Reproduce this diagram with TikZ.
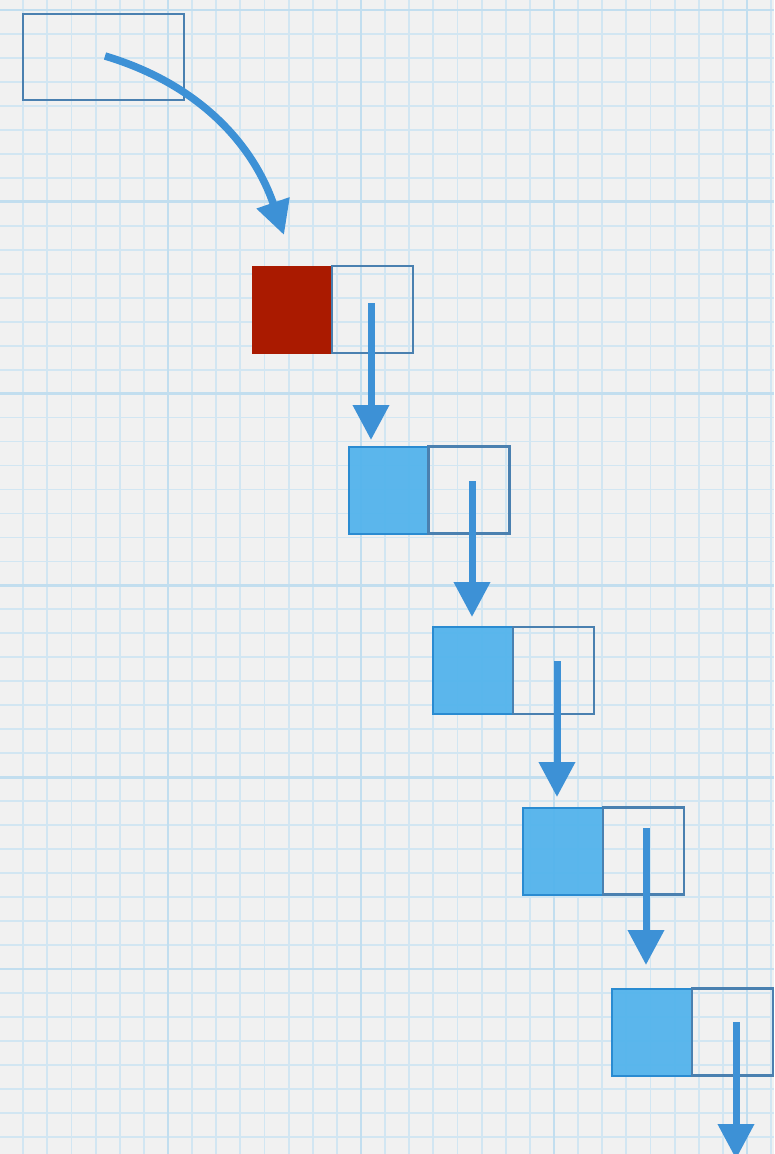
\documentclass[tikz,border=0pt]{standalone}
\usetikzlibrary{arrows.meta}
\definecolor{paper}{HTML}{F1F1F1}
\definecolor{gridminor}{HTML}{D2E6F2}
\definecolor{gridmajor}{HTML}{C2DEEF}
\definecolor{boxline}{HTML}{4A80B0}
\definecolor{arrowblue}{HTML}{3D91D6}
\definecolor{redfill}{HTML}{AA1A00}
\definecolor{bluefill}{HTML}{4FB2EC}
\definecolor{blueline}{HTML}{2A8BD1}
\begin{document}
\begin{tikzpicture}[x=1pt,y=-1pt,
  emptybox/.style={draw=boxline,line width=2.2pt,minimum width=81pt,minimum height=87pt,inner sep=0pt,outer sep=0pt},
  srcbox/.style={draw=boxline,line width=2.2pt,minimum width=161pt,minimum height=86pt,inner sep=0pt,outer sep=0pt},
  redbox/.style={fill=redfill,minimum width=80pt,minimum height=88pt,inner sep=0pt,outer sep=0pt},
  bluebox/.style={fill=bluefill,fill opacity=0.92,draw=blueline,line width=2pt,minimum width=80pt,minimum height=87pt,inner sep=0pt,outer sep=0pt},
  downarrow/.style={draw=arrowblue,line width=7pt,-{Triangle[length=35pt,width=35pt]}},
  curvearrow/.style={draw=arrowblue,line width=7.5pt,-{Triangle[length=34pt,width=33pt]}},
  minorline/.style={draw=gridminor,line width=1.8pt},
  majorline/.style={draw=gridmajor,line width=2.8pt}
]
\useasboundingbox (0,0) rectangle (774,1154);
\fill[paper] (0,0) rectangle (774,1154);
% grid
\foreach \i in {0,...,32} \draw[minorline] ({-0.875+\i*24.125},0) -- ++(0,1154);
\foreach \i in {0,...,47} \draw[minorline] (0,{10+\i*23.975}) -- ++(774,0);
\foreach \x in {168,361,554,747} \draw[majorline] (\x,0) -- ++(0,1154);
\foreach \i in {0,...,5} \draw[majorline] (0,{10+\i*191.8}) -- ++(774,0);
% boxes
\node[srcbox] (src) at (103.5,57) {};
\node[redbox] (h1) at (292,310) {};
\node[emptybox] (e1) at (372.5,309.5) {};
\node[bluebox] (b2) at (389,490.5) {};
\node[emptybox] (e2) at (469,490) {};
\node[bluebox] (b3) at (473,670.5) {};
\node[emptybox] (e3) at (553.5,670.5) {};
\node[bluebox] (b4) at (563,851) {};
\node[emptybox] (e4) at (643.5,851) {};
\node[bluebox] (b5) at (652,1032.5) {};
\node[emptybox] (e5) at (732.5,1032) {};
% arrow ends
\coordinate (s0) at (105,56);
\coordinate (t0) at (284,235);
\coordinate (s1) at (371,303);
\coordinate (t1) at (371,440);
\coordinate (s2) at (472,481);
\coordinate (t2) at (472,617);
\coordinate (s3) at (557,661);
\coordinate (t3) at (557,797);
\coordinate (s4) at (646,828);
\coordinate (t4) at (646,965);
\coordinate (s5) at (736,1022);
\coordinate (t5) at (736,1159);
% arrows
\draw[curvearrow] (s0) .. controls (205,86) and (255,150) .. (t0);
\draw[downarrow] (s1) -- (t1);
\draw[downarrow] (s2) -- (t2);
\draw[downarrow] (s3) -- (t3);
\draw[downarrow] (s4) -- (t4);
\draw[downarrow] (s5) -- (t5);
\end{tikzpicture}
\end{document}
